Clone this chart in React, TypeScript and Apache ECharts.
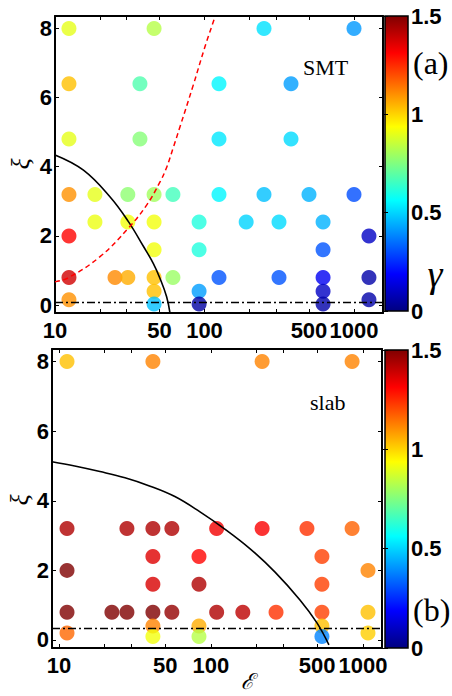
import React, { useEffect, useRef } from "react";
import * as echarts from "echarts";

// ---------- axis ticks ----------
const xTickValues = [10, 20, 30, 50, 100, 200, 300, 500, 1000];
const xLabelValues = [10, 50, 100, 500, 1000];
const yLabelValues = [0, 2, 4, 6, 8];

// ---------- panel (a) SMT : E, xi, gamma ----------
const smtE = [
  12.4, 46, 250, 1000,
  12.4, 37, 125, 379,
  12.4, 37, 125, 379,
  12.4, 18.5, 30.7, 46, 61.5, 125, 250, 500, 1000,
  18.5, 30.7, 46, 92, 190, 315, 621,
  12.4, 1259,
  46, 92, 621,
  12.4, 25.2, 30.7, 46, 61.5, 125, 315, 621, 1259,
  46, 92, 621,
  12.4, 1259,
  46, 92, 621,
];
const smtXi = [
  8, 8, 8, 8,
  6.4, 6.4, 6.4, 6.4,
  4.8, 4.8, 4.8, 4.8,
  3.2, 3.2, 3.2, 3.2, 3.2, 3.2, 3.2, 3.2, 3.2,
  2.4, 2.4, 2.4, 2.4, 2.4, 2.4, 2.4,
  2.0, 2.0,
  1.6, 1.6, 1.6,
  0.8, 0.8, 0.8, 0.8, 0.8, 0.8, 0.8, 0.8, 0.8,
  0.4, 0.4, 0.4,
  0.15, 0.15,
  0.03, 0.03, 0.03,
];
const smtGamma = [
  0.9, 0.83, 0.52, 0.41,
  1.03, 0.68, 0.55, 0.42,
  0.9, 0.76, 0.53, 0.51,
  1.1, 0.9, 0.77, 0.8, 0.66, 0.55, 0.47, 0.45, 0.3,
  0.91, 0.92, 0.92, 0.61, 0.5, 0.51, 0.45,
  1.31, 0.1,
  0.92, 0.61, 0.31,
  1.38, 1.11, 1.06, 1.03, 0.79, 0.31, 0.31, 0.17, 0.06,
  1.03, 0.42, 0.1,
  1.1, 0.06,
  0.47, 0.05, 0.06,
];

// ---------- panel (b) slab ----------
const slabE = [
  11.3, 41.5, 217, 848,
  11.3, 28, 41.5, 55.3, 109, 217, 428, 848,
  41.5, 83.4, 537,
  11.3, 1079,
  41.5, 83.4, 537,
  11.3, 22.3, 28, 41.5, 55.3, 109, 162, 268, 537, 1079,
  41.5, 83.4, 537,
  11.3, 1079,
  41.5, 83.4, 537,
];
const slabXi = [
  8, 8, 8, 8,
  3.2, 3.2, 3.2, 3.2, 3.2, 3.2, 3.2, 3.2,
  2.4, 2.4, 2.4,
  2.0, 2.0,
  1.6, 1.6, 1.6,
  0.8, 0.8, 0.8, 0.8, 0.8, 0.8, 0.8, 0.8, 0.8, 0.8,
  0.4, 0.4, 0.4,
  0.2, 0.2,
  0.1, 0.1, 0.1,
];
const slabGamma = [
  1.03, 1.12, 1.12, 1.12,
  1.43, 1.43, 1.43, 1.43, 1.33, 1.32, 1.24, 1.17,
  1.36, 1.31, 1.22,
  1.5, 1.12,
  1.37, 1.43, 1.22,
  1.5, 1.5, 1.5, 1.5, 1.47, 1.43, 1.41, 1.24, 1.22, 1.03,
  1.12, 1.06, 1.03,
  1.16, 1.01,
  0.92, 0.83, 0.38,
];

// ---------- curves ----------
const smtBoundE = [10, 15.5, 23.3, 30.9, 39.0, 45.5, 50.4, 55.8, 58.7];
const smtBoundXi = [4.34, 3.9, 3.13, 2.42, 1.7, 1.2, 0.77, 0.24, -0.22];
const smtRedE = [10, 12.3, 20, 30.9, 41, 50.4, 55.8, 61.8, 68.5, 84.1, 100.7, 117.5];
const smtRedXi = [0.67, 0.79, 1.4, 2.22, 2.89, 3.56, 3.98, 4.55, 5.15, 6.36, 7.47, 8.33];
const slabBoundE = [9.0, 12.7, 18.6, 27.2, 39.8, 57.9, 84.7, 124, 181, 264, 385, 498, 597];
const slabBoundXi = [5.12, 5.0, 4.84, 4.66, 4.42, 4.12, 3.68, 3.18, 2.62, 1.95, 1.15, 0.49, -0.14];
const smtThreshold = 0.08;
const slabThreshold = 0.35;

// ---------- colour scale ----------
const gammaMin = 0;
const gammaMax = 1.5;
const jet = ["#000080", "#0000ff", "#0080ff", "#00ffff", "#80ff80", "#ffff00", "#ff8000", "#ff0000", "#800000"];

const zip3 = (a: number[], b: number[], c: number[]) => a.map((v, i) => [v, b[i], c[i]]);
const zip2 = (a: number[], b: number[]) => a.map((v, i) => [v, b[i]]);

const tickFont = {
  fontFamily: '"Liberation Sans", Arial, sans-serif',
  fontWeight: "bold" as const,
  fontSize: 22,
  color: "#000",
};

const cbGradient = {
  type: "linear",
  x: 0,
  y: 1,
  x2: 0,
  y2: 0,
  colorStops: jet.map((c, i) => ({ offset: i / (jet.length - 1), color: c })),
};

const plain = (v: number) => String(v);

function logX(gridIndex: number, min: number, max: number, position: string, showLabels: boolean) {
  return {
    type: "log",
    logBase: 10,
    gridIndex,
    min,
    max,
    position,
    axisLine: { show: true, onZero: false, lineStyle: { color: "#000", width: 2 } },
    axisTick: { show: true, inside: true, length: 4, customValues: xTickValues, lineStyle: { color: "#000", width: 1 } },
    axisLabel: { show: showLabels, customValues: xLabelValues, margin: 6, hideOverlap: false, formatter: plain, ...tickFont },
    splitLine: { show: false },
    minorTick: { show: false },
    minorSplitLine: { show: false },
  };
}

function valY(gridIndex: number, position: string, showLabels: boolean) {
  return {
    type: "value",
    gridIndex,
    min: -0.23,
    max: 8.36,
    position,
    axisLine: { show: true, onZero: false, lineStyle: { color: "#000", width: 2 } },
    axisTick: { show: true, inside: true, length: 4, customValues: yLabelValues, lineStyle: { color: "#000", width: 1 } },
    axisLabel: { show: showLabels, customValues: yLabelValues, margin: 3, formatter: plain, ...tickFont },
    splitLine: { show: false },
  };
}

function cbY(gridIndex: number, position: string, showLabels: boolean) {
  return {
    type: "value",
    gridIndex,
    min: gammaMin,
    max: gammaMax,
    interval: 0.5,
    position,
    axisLine: { show: false },
    axisTick: { show: true, inside: true, length: 3, lineStyle: { color: "#000", width: 1 } },
    axisLabel: { show: showLabels, margin: 3, formatter: plain, ...tickFont },
    splitLine: { show: false },
  };
}

const serif = '"Liberation Serif", "DejaVu Serif", serif';
const dashDot = { color: "#000", width: 1.3, type: [8, 3, 2, 3] };

const option: any = {
  animation: false,
  backgroundColor: "#fff",
  grid: [
    { left: 55, top: 16, width: 328, height: 297, outerBoundsMode: "none" },
    { left: 52, top: 349, width: 330, height: 299, outerBoundsMode: "none" },
    { left: 385, top: 16, width: 23, height: 295, show: true, borderColor: "#000", borderWidth: 1.5, backgroundColor: cbGradient, outerBoundsMode: "none" },
    { left: 385, top: 350, width: 23, height: 298, show: true, borderColor: "#000", borderWidth: 1.5, backgroundColor: cbGradient, outerBoundsMode: "none" },
  ],
  xAxis: [
    logX(0, 10, 1563, "bottom", true),
    logX(0, 10, 1563, "top", false),
    logX(1, 9.0, 1334, "bottom", true),
    logX(1, 9.0, 1334, "top", false),
    { type: "value", gridIndex: 2, min: 0, max: 1, show: false },
    { type: "value", gridIndex: 3, min: 0, max: 1, show: false },
  ],
  yAxis: [
    valY(0, "left", true),
    valY(0, "right", false),
    valY(1, "left", true),
    valY(1, "right", false),
    cbY(2, "right", true),
    cbY(2, "left", false),
    cbY(3, "right", true),
    cbY(3, "left", false),
  ],
  visualMap: [
    {
      type: "continuous",
      show: false,
      min: gammaMin,
      max: gammaMax,
      dimension: 2,
      seriesIndex: [0, 1],
      inRange: { color: jet },
    },
  ],
  series: [
    {
      type: "scatter",
      xAxisIndex: 0,
      yAxisIndex: 0,
      symbolSize: 15,
      z: 2,
      data: zip3(smtE, smtXi, smtGamma),
    },
    {
      type: "scatter",
      xAxisIndex: 2,
      yAxisIndex: 2,
      symbolSize: 15,
      z: 2,
      data: zip3(slabE, slabXi, slabGamma),
    },
    {
      type: "line",
      xAxisIndex: 0,
      yAxisIndex: 0,
      smooth: 0.4,
      showSymbol: false,
      z: 3,
      lineStyle: { color: "#000", width: 1.6 },
      data: zip2(smtBoundE, smtBoundXi),
      markLine: {
        silent: true,
        symbol: ["none", "none"],
        label: { show: false },
        lineStyle: dashDot,
        data: [{ yAxis: smtThreshold }],
      },
    },
    {
      type: "line",
      xAxisIndex: 0,
      yAxisIndex: 0,
      smooth: 0.4,
      showSymbol: false,
      z: 3,
      lineStyle: { color: "#ff0000", width: 1.5, type: [5, 3.5] },
      data: zip2(smtRedE, smtRedXi),
    },
    {
      type: "line",
      xAxisIndex: 2,
      yAxisIndex: 2,
      smooth: 0.4,
      showSymbol: false,
      z: 3,
      lineStyle: { color: "#000", width: 1.6 },
      data: zip2(slabBoundE, slabBoundXi),
      markLine: {
        silent: true,
        symbol: ["none", "none"],
        label: { show: false },
        lineStyle: dashDot,
        data: [{ yAxis: slabThreshold }],
      },
    },
  ],
  graphic: [
    { type: "text", x: 303, y: 67, style: { text: "SMT", font: `22px ${serif}`, fill: "#000", textAlign: "left", textVerticalAlign: "middle" } },
    { type: "text", x: 310, y: 402, style: { text: "slab", font: `22px ${serif}`, fill: "#000", textAlign: "left", textVerticalAlign: "middle" } },
    { type: "text", x: 413, y: 63, style: { text: "(a)", font: `32px ${serif}`, fill: "#000", textAlign: "left", textVerticalAlign: "middle" } },
    { type: "text", x: 413, y: 610, style: { text: "(b)", font: `32px ${serif}`, fill: "#000", textAlign: "left", textVerticalAlign: "middle" } },
    { type: "text", x: 435, y: 274, style: { text: "γ", font: `italic 38px ${serif}`, fill: "#000", textAlign: "center", textVerticalAlign: "middle" } },
    { type: "text", x: 20, y: 164, rotation: Math.PI / 2, style: { text: "ξ", font: `italic 26px ${serif}`, fill: "#000", textAlign: "center", textVerticalAlign: "middle" } },
    { type: "text", x: 19, y: 500, rotation: Math.PI / 2, style: { text: "ξ", font: `italic 26px ${serif}`, fill: "#000", textAlign: "center", textVerticalAlign: "middle" } },
    { type: "text", x: 247, y: 681, style: { text: "ℰ", font: `italic 22px "DejaVu Serif", serif`, fill: "#000", textAlign: "center", textVerticalAlign: "middle" } },
  ],
};

export default function App() {
  const ref = useRef<HTMLDivElement>(null);
  useEffect(() => {
    const chart = echarts.init(ref.current!, null, { renderer: "svg" });
    chart.setOption(option);
    return () => chart.dispose();
  }, []);
  return <div ref={ref} style={{ position: "absolute", left: 0, top: 0, width: 452, height: 696 }} />;
}
